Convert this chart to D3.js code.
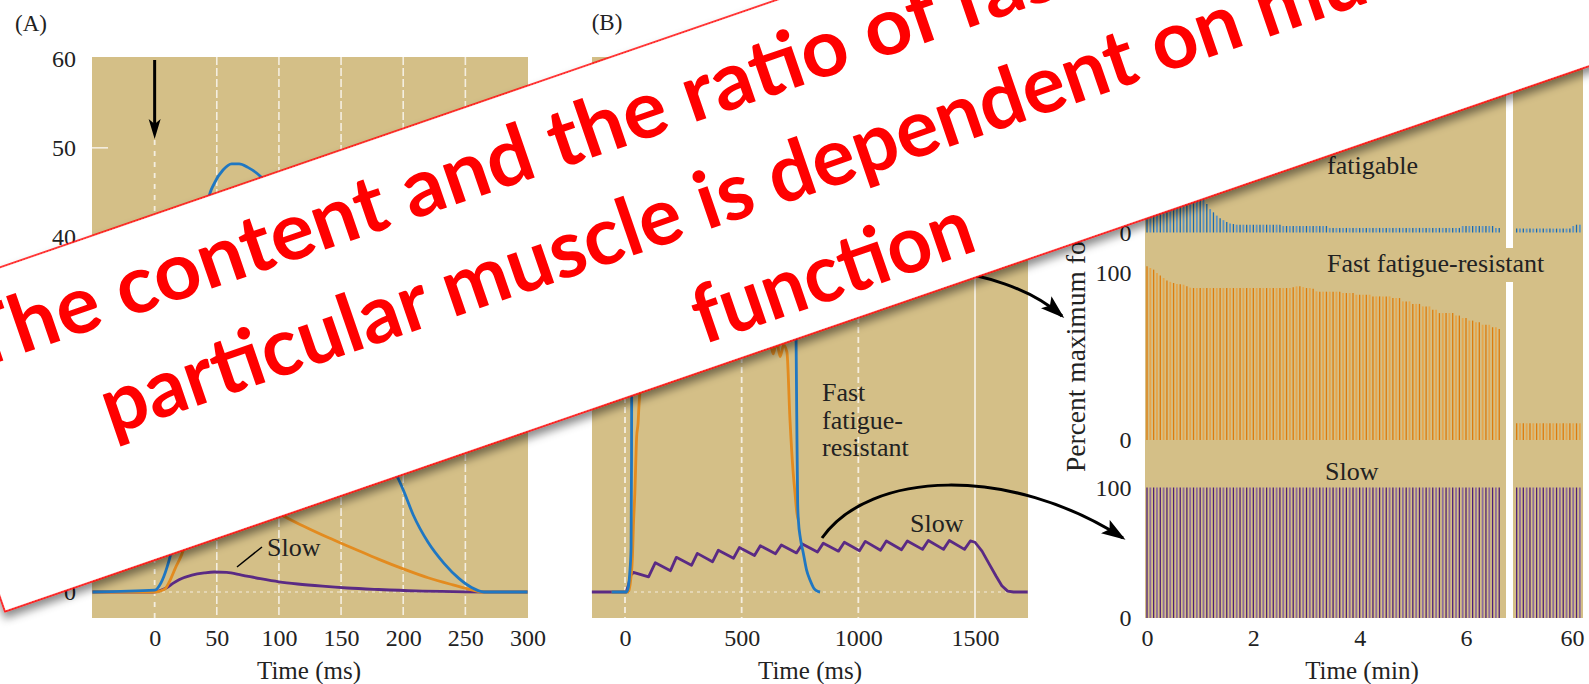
<!DOCTYPE html>
<html>
<head>
<meta charset="utf-8">
<script src="https://cdn.jsdelivr.net/npm/d3@7"></script>
<style>
  body { margin: 0; background: #fff; }
  svg { display: block; }
</style>
</head>
<body>
<svg id="chart" width="1589" height="684"></svg>
<script>
// ---- data ----
// (A) single twitch, [time ms, force g]
const tickA = [0, 50, 100, 150, 200, 250, 300];
const tickAY = [0, 10, 20, 30, 40, 50, 60];
const twitchFF = [[-50,0],[0,0.2],[5,1],[10,2.8],[13,4.3],[17,7],[21,12],[25,18],[30,25.5],[35,33],[40,40],[43,44],[48,46],[55,47.5],[62,48.2],[68,48.2],[75,47.8],[85,46.8],[95,45],[110,41],[125,35.5],[140,30],[155,25],[170,20],[185,16.3],[192,14],[200,11.5],[208,8.7],[220,5.6],[233,3.2],[245,1.5],[255,0.5],[265,0],[300,0]];
const twitchFR = [[-50,0],[0,0],[8,0.3],[12,1.2],[17,2.8],[22,4.3],[28,7.5],[35,10.5],[45,12.8],[55,13.3],[65,12.5],[80,10.8],[102,8.7],[120,7.4],[140,6.1],[160,4.9],[180,3.7],[200,2.6],[220,1.6],[240,0.8],[255,0.25],[265,0],[300,0]];
const twitchS = [[-50,0],[0,0],[5,0.2],[10,0.5],[15,1.0],[20,1.4],[30,1.9],[40,2.15],[48,2.25],[58,2.2],[70,1.9],[85,1.5],[100,1.15],[115,0.9],[135,0.65],[155,0.45],[180,0.28],[210,0.12],[240,0.04],[270,0],[300,0]];

// (B) tetanus, [time ms, force g]
const tickB = [0, 500, 1000, 1500];
const tetanusFF = [[-57,0],[6,0],[14,0.5],[20,2],[26,5],[28,15],[30,40],[33,55],[60,57],[200,56],[400,55],[600,54],[715,53],[725,48],[730,38],[736,20],[740,10],[743,8.1],[752,6],[764,4.4],[778,2.5],[793,1.35],[810,0.4],[825,0.08],[836,0]];
const tetanusFR = [[-57,0],[15,0],[25,1.5],[32,4],[36,7.4],[42,11],[50,17.5],[56,19],[60,21],[64,22.5],[72,25],[85,27],[120,27.5],[250,28],[400,28.2],[550,28],[606,27.5],[620,28.4],[635,26.8],[650,28.2],[665,26.5],[680,27.8],[694,27],[707,19.4],[720,13.7],[729,11],[736,9],[743,8.1]];
const tetanusS = [[-142,0],[5,0],[15,0.8],[25,1.9],[36,2.2],[101,1.7],[130,3.3],[195,2.4],[220,3.9],[285,3.0],[310,4.35],[375,3.4],[400,4.7],[465,3.8],[490,5.0],[555,4.1],[580,5.2],[645,4.3],[670,5.3],[735,4.4],[760,5.4],[825,4.5],[850,5.5],[915,4.6],[940,5.6],[1005,4.65],[1030,5.7],[1095,4.7],[1120,5.75],[1185,4.75],[1210,5.75],[1275,4.8],[1300,5.8],[1365,4.8],[1390,5.8],[1455,4.8],[1480,5.75],[1500,5.6],[1530,4.6],[1560,3.2],[1590,1.8],[1615,0.7],[1640,0.1],[1665,0],[1726,0]];

// (C) repeated stimulation, percent maximum force per stimulus
const tickC = [0, 2, 4, 6];
const tickC2 = [60];
const stepMin = 1 / 16;   // one stimulus train every 3.75 s
const lateStart = 58.96;  // first train shown after the axis break
const ffForce = [
  60,62,64,66,68,70,72,75,78,80,83,86,88,90,93,96,100,45,22,18,
  15.5,13,11,9.5,8,7,6.5,6,6,6,6,6,6,6,6,6,6,6,6,6,
  6,5,5,5,5,5,5,5,5,5,5,5,5,5,5,3.5,3.5,3.5,3.5,3.5,
  3.5,3.5,3.5,3.5,3.5,3.5,3.5,3.5,3.5,3.5,3.5,3.5,3.5,3.5,3.5,3.5,3.5,3.5,3.5,3.5,
  3.5,3.5,3.5,3.5,3.5,3.5,3.5,3.5,3.5,3.5,3.5,3.5,3.5,3.5,3.5,5,5,5,5,5,
  5,5,5,5,5,3.5,3.5
];
const frForce = [
  104,103,102,100,98.5,97,95.5,94.7,94,93.4,93.2,93,92,91.2,
  91,91,91,91,91,91,91,91,91,91,
  91,91,91,91,91,91,91,91,91,91,
  91,91,91,91,91,91,91,91,91,91,
  91.5,92,92,91.5,91,91,
  90.5,89,
  88.8,88.8,88.8,88.8,88.8,88.8,88.8,
  88,88,88,88,
  87,87,87,87,87,
  86,86,86,86,86,86,
  85,85,85,83,83,83,81.5,81.5,81.5,80,80,80,78,78,
  76,76,76,76,76,74.5,74.5,73,73,71.5,71.5,70.5,70.5,
  69,69,69,67.5,67.5,66.5
];
const slowForce = [
  100,100,100,100,100,100,100,100,100,100,100,100,100,100,100,100,100,100,100,100,
  100,100,100,100,100,100,100,100,100,100,100,100,100,100,100,100,100,100,100,100,
  100,100,100,100,100,100,100,100,100,100,100,100,100,100,100,100,100,100,100,100,
  100,100,100,100,100,100,100,100,100,100,100,100,100,100,100,100,100,100,100,100,
  100,100,100,100,100,100,100,100,100,100,100,100,100,100,100,100,100,100,100,100,
  100,100,100,100,100,100,100
];
const ffForceLate = [3,3,3,3,3,3,3,3,3,3,3,3,3,3,3,3,3,5,6,6];
const frForceLate = [10,10,10,10,10,10,10,10,10,10,10,10,10,10,10,10,10,10,10,10];
const slowForceLate = [100,100,100,100,100,100,100,100,100,100,100,100,100,100,100,100,100,100,100,100];

const bannerLines = [
  'The content and the ratio of fast/slow fibers in',
  'particular muscle is dependent on muscle',
  'function'
];
const bannerWidths = [1700, 1470, 292];
const bannerCenters = [900, 893, 893];
const bannerBaselines = [-238, -132, -25];

// ---- styling ----
const color = {
  tan: '#d4bf87',
  grid: '#f4eee0',
  blue: '#1f77c2',
  orange: '#e38b1f',
  purple: '#5a2a84',
  text: '#222',
  red: '#ff0000'
};
const serif = '"Liberation Serif", "DejaVu Serif", serif';
const plotTop = 57, plotBottom = 618;
const fmt = d3.format('d');

const svg = d3.select('#chart');

const defs = svg.append('defs');
defs.append('marker')
  .attr('id', 'head')
  .attr('viewBox', '0 0 24 16')
  .attr('markerUnits', 'userSpaceOnUse')
  .attr('markerWidth', 24)
  .attr('markerHeight', 16)
  .attr('refX', 21)
  .attr('refY', 8)
  .attr('orient', 'auto')
  .append('path')
  .attr('d', 'M0,0 L24,8 L0,16 L5,8 Z')
  .attr('fill', '#000');

defs.append('filter')
  .attr('id', 'shadow')
  .attr('x', '-5%').attr('y', '-20%')
  .attr('width', '110%').attr('height', '150%')
  .append('feDropShadow')
  .attr('dx', -2).attr('dy', 6)
  .attr('stdDeviation', 4)
  .attr('flood-color', '#000')
  .attr('flood-opacity', 0.45);

function styleAxis(g, size) {
  g.select('.domain').remove();
  g.selectAll('text')
    .attr('font-family', serif)
    .attr('font-size', size)
    .attr('fill', color.text);
}

function label(x, y, txt, opts = {}) {
  return svg.append('text')
    .attr('x', x)
    .attr('y', y)
    .attr('dy', '0.35em')
    .attr('font-family', serif)
    .attr('font-size', opts.size || 26)
    .attr('text-anchor', opts.anchor || 'start')
    .attr('fill', color.text)
    .text(txt);
}

function plotLine(data, x, y, stroke, curve) {
  svg.append('path')
    .datum(data)
    .attr('fill', 'none')
    .attr('stroke', stroke)
    .attr('stroke-width', 2.8)
    .attr('stroke-linejoin', 'round')
    .attr('d', d3.line().x((d) => x(d[0])).y((d) => y(d[1])).curve(curve));
}

// ================= (A) twitch =================
const xA = d3.scaleLinear().domain([-50, 300]).range([92.5, 527.5]);
const yA = d3.scaleLinear().domain([0, 60]).range([592, 59]);

svg.append('rect')
  .attr('x', 92).attr('y', plotTop)
  .attr('width', 436).attr('height', plotBottom - plotTop)
  .attr('fill', color.tan);

// vertical grid
svg.append('g')
  .selectAll('line')
  .data(tickA.filter((t) => t > 0 && t < 300))
  .join('line')
  .attr('x1', (d) => xA(d)).attr('x2', (d) => xA(d))
  .attr('y1', plotTop).attr('y2', plotBottom)
  .attr('stroke', color.grid)
  .attr('stroke-width', 1.6)
  .attr('stroke-dasharray', '8,3');

svg.append('line')
  .attr('x1', xA(0)).attr('x2', xA(0))
  .attr('y1', 140).attr('y2', plotBottom)
  .attr('stroke', color.grid)
  .attr('stroke-width', 1.8)
  .attr('stroke-dasharray', '5,6');

svg.append('line')
  .attr('x1', 92).attr('x2', 528)
  .attr('y1', yA(0)).attr('y2', yA(0))
  .attr('stroke', color.grid)
  .attr('stroke-width', 1.2)
  .attr('stroke-dasharray', '3,4');

svg.append('g')
  .selectAll('line')
  .data(tickAY.filter((v) => v > 0 && v < 60))
  .join('line')
  .attr('x1', 92).attr('x2', 108)
  .attr('y1', (d) => yA(d)).attr('y2', (d) => yA(d))
  .attr('stroke', color.grid)
  .attr('stroke-width', 1.6);

plotLine(twitchS, xA, yA, color.purple, d3.curveMonotoneX);
plotLine(twitchFR, xA, yA, color.orange, d3.curveMonotoneX);
plotLine(twitchFF, xA, yA, color.blue, d3.curveMonotoneX);

// stimulus arrow
svg.append('line')
  .attr('x1', xA(0)).attr('x2', xA(0))
  .attr('y1', 60).attr('y2', 126)
  .attr('stroke', '#000')
  .attr('stroke-width', 3);
svg.append('path')
  .attr('d', `M${xA(0) - 6},119 L${xA(0)},139 L${xA(0) + 6},119 L${xA(0)},124 Z`)
  .attr('fill', '#000');

svg.append('g')
  .attr('transform', 'translate(0,618)')
  .call(d3.axisBottom(xA).tickValues(tickA).tickFormat(fmt).tickSize(0).tickPadding(11))
  .call((g) => styleAxis(g, 24));
svg.append('g')
  .attr('transform', 'translate(90,0)')
  .call(d3.axisLeft(yA).tickValues(tickAY).tickFormat(fmt).tickSize(0).tickPadding(14))
  .call((g) => styleAxis(g, 24));

label(309, 670, 'Time (ms)', { anchor: 'middle', size: 25 });
label(31, 23, '(A)', { anchor: 'middle', size: 23 });
label(267, 547, 'Slow');
svg.append('line')
  .attr('x1', 237).attr('y1', 567)
  .attr('x2', 262).attr('y2', 547)
  .attr('stroke', '#000')
  .attr('stroke-width', 1.5);

// ================= (B) tetanus =================
const xB = d3.scaleLinear().domain([0, 1500]).range([625, 975]);
const yB = yA.copy();

svg.append('rect')
  .attr('x', 592).attr('y', plotTop)
  .attr('width', 436).attr('height', plotBottom - plotTop)
  .attr('fill', color.tan);

svg.append('g')
  .selectAll('line')
  .data(tickB)
  .join('line')
  .attr('x1', (d) => xB(d)).attr('x2', (d) => xB(d))
  .attr('y1', plotTop).attr('y2', plotBottom)
  .attr('stroke', color.grid)
  .attr('stroke-width', 1.8)
  .attr('stroke-dasharray', (d) => (d === 1500 ? null : '6,4'));

svg.append('line')
  .attr('x1', 592).attr('x2', 1028)
  .attr('y1', yB(0)).attr('y2', yB(0))
  .attr('stroke', color.grid)
  .attr('stroke-width', 1.2)
  .attr('stroke-dasharray', '3,4');

plotLine(tetanusS, xB, yB, color.purple, d3.curveLinear);
plotLine(tetanusFR, xB, yB, color.orange, d3.curveMonotoneX);
plotLine(tetanusFF, xB, yB, color.blue, d3.curveMonotoneX);

svg.append('g')
  .attr('transform', 'translate(0,618)')
  .call(d3.axisBottom(xB).tickValues(tickB).tickFormat(fmt).tickSize(0).tickPadding(11))
  .call((g) => styleAxis(g, 24));

label(810, 670, 'Time (ms)', { anchor: 'middle', size: 25 });
label(607, 22, '(B)', { anchor: 'middle', size: 23 });
label(822, 392, 'Fast');
label(822, 420, 'fatigue-');
label(822, 447, 'resistant');
label(910, 523, 'Slow');

// ================= (C) fatigue =================
const xC = d3.scaleLinear().domain([0, 6]).range([1147, 1466]);
const xC2 = d3.scaleLinear().domain([59, 60]).range([1518.8, 1572]);
const yFF = d3.scaleLinear().domain([0, 100]).range([232.5, 102.5]);
const yFR = d3.scaleLinear().domain([0, 100]).range([440, 273]);
const ySlow = d3.scaleLinear().domain([0, 100]).range([618, 487.5]);

svg.append('rect')
  .attr('x', 1145).attr('y', plotTop)
  .attr('width', 438).attr('height', plotBottom - plotTop)
  .attr('fill', color.tan);

// axis break
svg.append('rect')
  .attr('x', 1506).attr('y', plotTop)
  .attr('width', 7).attr('height', 248 - plotTop)
  .attr('fill', '#fff');
svg.append('rect')
  .attr('x', 1506).attr('y', 282)
  .attr('width', 7).attr('height', plotBottom - 282)
  .attr('fill', '#fff');

function drawBars(values, start, x, y, dark, light) {
  svg.append('g')
    .selectAll('line')
    .data(values)
    .join('line')
    .attr('x1', (d, i) => x(start + i * stepMin))
    .attr('x2', (d, i) => x(start + i * stepMin))
    .attr('y1', y(0))
    .attr('y2', (d) => y(d))
    .attr('stroke', (d, i) => (i % 2 ? light : dark))
    .attr('stroke-width', (d, i) => (i % 2 ? 1.8 : 1.3));
}

drawBars(ffForce, 0, xC, yFF, '#1a6ab0', '#5b93c6');
drawBars(ffForceLate, lateStart, xC2, yFF, '#1a6ab0', '#5b93c6');
drawBars(frForce, 0, xC, yFR, '#dd7c0c', '#e8a548');
drawBars(frForceLate, lateStart, xC2, yFR, '#dd7c0c', '#e8a548');
drawBars(slowForce, 0, xC, ySlow, '#4e1f78', '#8d6b9c');
drawBars(slowForceLate, lateStart, xC2, ySlow, '#4e1f78', '#8d6b9c');

svg.append('g')
  .attr('transform', 'translate(0,618)')
  .call(d3.axisBottom(xC).tickValues(tickC).tickFormat(fmt).tickSize(0).tickPadding(11))
  .call((g) => styleAxis(g, 24));
svg.append('g')
  .attr('transform', 'translate(0,618)')
  .call(d3.axisBottom(xC2).tickValues(tickC2).tickFormat(fmt).tickSize(0).tickPadding(11))
  .call((g) => styleAxis(g, 24));

[[yFF, [0]], [yFR, [0, 100]], [ySlow, [0, 100]]].forEach(([y, ticks]) => {
  svg.append('g')
    .attr('transform', 'translate(1145,0)')
    .call(d3.axisLeft(y).tickValues(ticks).tickFormat(fmt).tickSize(0).tickPadding(13.5))
    .call((g) => styleAxis(g, 24));
});

svg.append('text')
  .attr('transform', 'translate(1085,472) rotate(-90)')
  .attr('font-family', serif)
  .attr('font-size', 27.5)
  .attr('fill', color.text)
  .text('Percent maximum force');

label(1362, 670, 'Time (min)', { anchor: 'middle', size: 25 });
label(1327, 165, 'fatigable');
label(1327, 263, 'Fast fatigue-resistant');
label(1325, 471, 'Slow');

// arrows from (B) to (C)
svg.append('path')
  .attr('d', 'M935,268 C985,275 1030,288 1062,316')
  .attr('fill', 'none')
  .attr('stroke', '#000')
  .attr('stroke-width', 3)
  .attr('marker-end', 'url(#head)');
svg.append('path')
  .attr('d', 'M822,538 C870,470 1010,465 1123,538')
  .attr('fill', 'none')
  .attr('stroke', '#000')
  .attr('stroke-width', 3)
  .attr('marker-end', 'url(#head)');

// ================= slide banner =================
const banner = svg.append('g')
  .attr('transform', 'translate(5,611.5) rotate(-19)');

banner.append('rect')
  .attr('x', 0).attr('y', -327)
  .attr('width', 2300).attr('height', 327)
  .attr('fill', '#fff')
  .attr('stroke', color.red)
  .attr('stroke-width', 1.6)
  .attr('filter', 'url(#shadow)');

// size the font so the middle line spans the same width as on the slide
const probe = banner.append('text')
  .attr('font-family', 'Lato, "Open Sans", sans-serif')
  .attr('font-weight', 700)
  .attr('font-size', 100)
  .text(bannerLines[1]);
const bannerSize = (100 * bannerWidths[1]) / probe.node().getComputedTextLength();
probe.remove();

banner.append('g')
  .selectAll('text')
  .data(bannerLines)
  .join('text')
  .attr('x', (d, i) => bannerCenters[i])
  .attr('y', (d, i) => bannerBaselines[i])
  .attr('text-anchor', 'middle')
  .attr('font-family', 'Lato, "Open Sans", sans-serif')
  .attr('font-weight', 700)
  .attr('font-size', bannerSize)
  .attr('textLength', (d, i) => bannerWidths[i])
  .attr('lengthAdjust', 'spacingAndGlyphs')
  .attr('fill', color.red)
  .text((d) => d);
</script>
</body>
</html>
